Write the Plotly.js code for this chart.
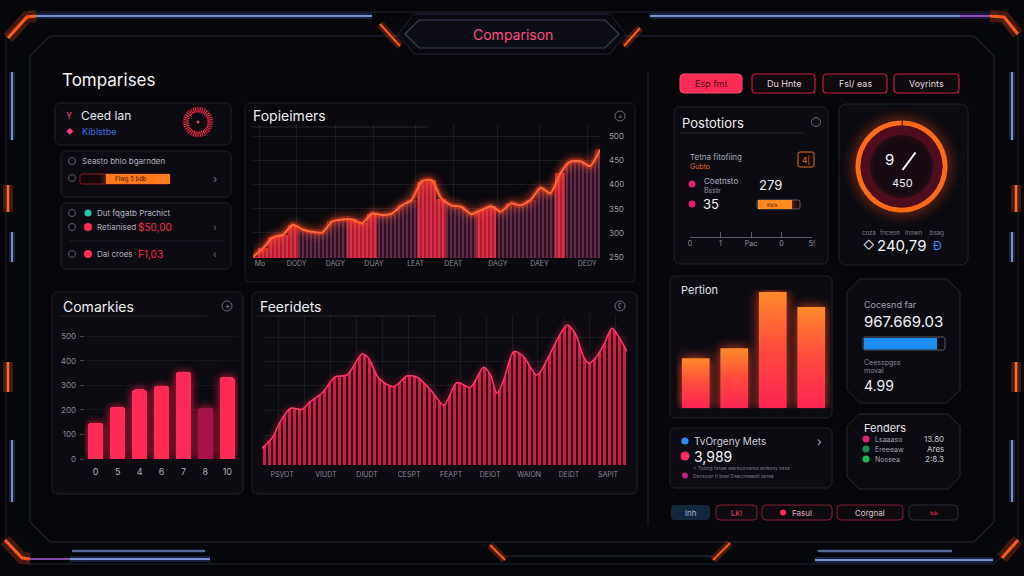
<!DOCTYPE html>
<html><head><meta charset="utf-8">
<script src="https://cdn.plot.ly/plotly-3.0.1.min.js"></script>
<style>
html,body{margin:0;padding:0;background:#05050a;overflow:hidden;}
#chart{width:1024px;height:576px;}
.subplot.x2y2 .barlayer .point path{filter:drop-shadow(0 0 4px rgba(255,30,70,0.9));}
.subplot.x4y4 .scatterlayer .fills path{filter:drop-shadow(0 0 6px rgba(255,70,40,0.85));}
.subplot.x3y3 .scatterlayer .js-line{filter:drop-shadow(0 0 3px rgba(255,40,90,0.9));}
.subplot.xy .scatterlayer .js-line{filter:drop-shadow(0 0 4px rgba(255,80,40,0.95));}
.subplot.x5y5 .barlayer path,.subplot.x6y6 .barlayer path{filter:drop-shadow(0 0 4px rgba(255,110,20,0.9));}
.pielayer .trace:first-child path.surface{filter:drop-shadow(0 0 7px rgba(255,80,20,0.9));}
</style></head>
<body><div id="chart"></div>
<script>
// ---------- DATA ----------
const trendX = [0,1,2,3,4,5,6,7,8,9,10,11,12,13,14,15,16,17,18,19,20,21,22,23,24,25,26,27,28,29,30,31,32,33,34,35];
const trendVals = [251,268,291,296,317,307,302,301,324,328,328,320,340,337,340,357,368,406,409,371,357,354,339,347,355,344,361,357,368,393,382,423,447,448,438,472];
const trendTickVals = [0.7,4.4,8.3,12.2,16.4,20.2,24.7,28.9,33.7];
const trendTickText = ['Mo','DODY','DAGY','DUAY','LEAT','DEAT','DAGY','DAEY','DEDY'];
const trendYTicks = [250,300,350,400,450,500];
const trendBright = [0,1,2,3,4,10,11,12,17,18,19,23,24,31];

const comCats = ['0','5','4','6','7','8','10'];
const comVals = [147,212,283,298,356,209,333];
const comYTicks = [0,100,200,300,400,500];

const feerX = [0,2.7,5,7.8,11,13.2,16.4,20.1,23.3,27.4,29.2,32,36.1,39.7,42.5,46.6,49.8,53.4,57.1,60.7,62.6,64.4,66.2,69,71.7,75.3,78.1,79.9,83.6,85.8,88.1,89.5,91.3,93.6,95.9,97.7,100];
const feerY = [16.7,26.7,43.3,56.7,55.7,63.3,71.7,88.3,90,111,106.7,86.7,78.3,89,87.7,73.3,60,82.3,77.7,97.7,90,71.7,85,113.3,108.3,90,105,118.3,140,131.7,108.3,101.7,106.7,120,136.7,128.3,113.3];
const feerTickVals = [5.5,17.5,28.8,40.3,51.8,62.5,73.2,84.1,94.8];
const feerTickText = ['PSVOT','VIUDT','DIUDT','CESPT','FEAPT','DEIOT','WAION','DEIDT','SAPIT'];

const perCats = [0,1,2,3];
const perVals = [50,60,116,101];

const gaugeRing = [1,199];
const progressLeft = {start:29, len:71};
const progressPos = [81];
const progressConsumed = [90.5];
const posScaleVals = [0,1,2,3,4];
const posScaleText = ['0','1','Pac','0','5!'];

// ---------- HELPERS ----------
const W=1024,H=576,F='Inter, "Open Sans", Roboto, sans-serif';
const X=p=>p/W, Y=p=>1-p/H;
const shapes=[], ann=[];
function pth(pts,close){return 'M '+pts.map(p=>X(p[0])+','+Y(p[1])).join(' L ')+(close?' Z':'');}
function rr(x0,y0,x1,y1,r){return `M ${X(x0+r)},${Y(y0)} L ${X(x1-r)},${Y(y0)} Q ${X(x1)},${Y(y0)} ${X(x1)},${Y(y0+r)} L ${X(x1)},${Y(y1-r)} Q ${X(x1)},${Y(y1)} ${X(x1-r)},${Y(y1)} L ${X(x0+r)},${Y(y1)} Q ${X(x0)},${Y(y1)} ${X(x0)},${Y(y1-r)} L ${X(x0)},${Y(y0+r)} Q ${X(x0)},${Y(y0)} ${X(x0+r)},${Y(y0)} Z`;}
function oct(x0,y0,x1,y1,c){return pth([[x0+c,y0],[x1-c,y0],[x1,y0+c],[x1,y1-c],[x1-c,y1],[x0+c,y1],[x0,y1-c],[x0,y0+c]],true);}
function S(path,fill,line,w,layer){shapes.push({type:'path',xref:'paper',yref:'paper',path,fillcolor:fill||'rgba(0,0,0,0)',line:{color:line||'rgba(0,0,0,0)',width:w||0},layer:layer||'below'});}
function L(pts,color,w,glow){ if(glow){S(pth(pts),null,glow,w*4);} S(pth(pts),null,color,w);}
function dot(cx,cy,r,fill,line,layer){shapes.push({type:'circle',xref:'paper',yref:'paper',x0:X(cx-r),x1:X(cx+r),y0:Y(cy+r),y1:Y(cy-r),fillcolor:fill||'rgba(0,0,0,0)',line:{color:line||'rgba(0,0,0,0)',width:line?1:0},layer:layer||'above'});}
function T(x,y,text,size,color,anchor,extra){ann.push(Object.assign({xref:'paper',yref:'paper',x:X(x),y:Y(y),text,showarrow:false,xanchor:anchor||'left',yanchor:'middle',font:{family:F,size,color}},extra||{}));}

// ---------- FRAME ----------
S(oct(6,12,1018,564,24),'#06070b','#161a24',1.5);
S(oct(30,36,994,542,20),'#07070b','#1b1f2b',1.5);
L([[8,38],[27,17],[36,16]],'#ff5a1c',3,'rgba(255,80,20,0.25)');
L([[36,16],[372,16]],'#9ab8ff',1.5,'rgba(100,150,255,0.2)');
L([[650,16],[960,16]],'#9ab8ff',1.5,'rgba(100,150,255,0.2)');
L([[960,16],[990,16]],'#b060e0',1.5,'rgba(160,80,255,0.2)');
L([[990,16],[1004,17],[1018,34]],'#ff5a1c',3,'rgba(255,80,20,0.25)');
L([[12,72],[12,140]],'#9ab8ff',1.5,'rgba(100,150,255,0.2)');
L([[8,185],[8,212]],'#ff6a1c',2.5,'rgba(255,80,20,0.25)');
L([[12,232],[12,262]],'#9ab8ff',1.5,'rgba(100,150,255,0.2)');
L([[8,362],[8,392]],'#ff6a1c',2.5,'rgba(255,80,20,0.25)');
L([[12,440],[12,502]],'#9ab8ff',1.5,'rgba(100,150,255,0.2)');
L([[1012,72],[1012,140]],'#9ab8ff',1.5,'rgba(100,150,255,0.2)');
L([[1016,185],[1016,212]],'#ff6a1c',2.5,'rgba(255,80,20,0.25)');
L([[1012,232],[1012,262]],'#9ab8ff',1.5,'rgba(100,150,255,0.2)');
L([[1016,362],[1016,392]],'#ff6a1c',2.5,'rgba(255,80,20,0.25)');
L([[1012,440],[1012,502]],'#9ab8ff',1.5,'rgba(100,150,255,0.2)');
L([[5,540],[22,558],[30,559]],'#ff5a1c',3,'rgba(255,80,20,0.25)');
L([[30,559],[70,559]],'#b060e0',1.5);
L([[70,559],[210,559]],'#9ab8ff',1.5,'rgba(100,150,255,0.2)');
L([[72,551],[205,551]],'#9ab8ff',1,'rgba(100,150,255,0.15)');
L([[815,560],[993,560]],'#9ab8ff',1.5,'rgba(100,150,255,0.2)');
L([[818,551],[952,551]],'#9ab8ff',1,'rgba(100,150,255,0.15)');
L([[1002,558],[1018,540]],'#ff5a1c',3,'rgba(255,80,20,0.25)');
L([[713,560],[730,543]],'#ff5a1c',2,'rgba(255,80,20,0.25)');
L([[490,545],[505,560]],'#ff5a1c',2,'rgba(255,80,20,0.25)');
L([[505,556],[713,556]],'#2a3040',1);
L([[380,24],[400,46]],'#ff5a1c',2,'rgba(255,80,20,0.25)');
L([[640,28],[624,46]],'#ff5a1c',2,'rgba(255,80,20,0.25)');
S(pth([[398,34],[414,14],[610,14],[626,34],[610,54],[414,54]],true),'#08080e','#20243a',1);
S(pth([[405,34],[419,20],[605,20],[619,34],[605,48],[419,48]],true),'#0d0d16','#3a3f58',1.2);
T(513,34,'Comparison',14,'#ff4f80','center');
L([[648,72],[648,525]],'#1c1c26',1.2);

// ---------- PANELS ----------
const PF='#0b0b11', PL='#22222c';
T(60,80,'Tomparises',17,'#f2f2f6');
S(rr(55,103,231,145,6),PF,PL,1);
S(rr(61,151,231,197,6),PF,PL,1);
S(rr(61,203,231,269,6),PF,PL,1);
S(rr(245,103,635,282,6),'#09090e','#1e1e28',1);
S(rr(52,292,243,494,6),PF,PL,1);
S(rr(252,292,637,494,6),PF,PL,1);
S(rr(674,107,828,264,6),PF,PL,1);
S(rr(839,104,968,265,8),PF,PL,1);
S(rr(670,276,832,418,6),PF,PL,1);
S(rr(670,428,832,488,6),PF,PL,1);
S(oct(847,279,960,403,13),PF,'#262630',1);
S(oct(847,414,960,489,12),PF,'#262630',1);

T(69,116,'Y',9,'#ff3a6a','center'); T(79,116,'Ceed lan',12,'#e8e8ee');
T(70,131,'◆',7,'#ff3a8a','center'); T(80,131,'Kiblstbe',9,'#3c6fe0');
dot(72,161,3.5,null,'#5a5a68'); T(80,161,'Seasto bhlo bgarnden',8,'#b0b0bc');
dot(72,178,3.5,null,'#5a5a68');
S(rr(80,174,170,184,2),'#120608','#8a1a22',1);
T(113,179,'Flwg 5 bdb',6,'#4a1200');
T(215,179,'›',11,'#7a7a88','center');
dot(72,213,3.5,null,'#5a5a68'); dot(88,213,3.5,'#28c8a8'); T(95,213,'Dut fqgatb Prachict',8,'#b8b8c4');
dot(72,227,3.5,null,'#5a5a68'); dot(88,227,4,'#ff2a55'); T(95,227,'Retianised',8,'#b0b0bc'); T(136,227,'$50,00',10,'#ff2a4a');
T(215,227,'›',10,'#6a6a78','center');
L([[70,241],[225,241]],'#22222c',1);
dot(72,254,3.5,null,'#5a5a68'); dot(88,254,4,'#ff2a55'); T(95,254,'Dal croes',8,'#b0b0bc'); T(136,254,'F1,03',10,'#ff2a4a');
T(215,254,'‹',10,'#6a6a78','center');

T(251,116,'Fopieimers',14,'#eeeef2'); L([[250,127],[427,127]],'#26262f',1); dot(620,116,5,null,'#6a6a78'); T(620,116,'◦',8,'#8a8a98','center');
T(61,306,'Comarkies',14,'#eeeef2'); L([[61,316],[207,316]],'#26262f',1); dot(227,306,5,null,'#6a6a78'); T(227,306,'+',8,'#8a8a98','center');
T(258,306,'Feeridets',14,'#eeeef2'); L([[257,316],[435,316]],'#26262f',1); dot(620,306,5,null,'#6a6a78'); T(620,306,'ʕ',7,'#8a8a98','center');

S(rr(680,74,742,93,4),'#ff2a55','#ff4a6a',1);
T(711,83.5,'Esp fmt',9,'#4a0814','center');
[[752,815,'Du Hnte'],[823,887,'Fsl/ eas'],[894,959,'Voyrints']].forEach(b=>{S(rr(b[0],74,b[1],93,4),'#100a0e','#c81e3c',1.2);T((b[0]+b[1])/2,83.5,b[2],9,'#e4d8de','center');});

T(680,123,'Postotiors',13,'#eeeef2'); L([[680,133],[805,133]],'#26262f',1); dot(816,122,4.5,null,'#6a6a78');
T(688,157,'Tetna fitofiing',8,'#a8a8b8'); T(688,166,'Gubto',7,'#e06a20');
S(rr(798,152,814,167,2),'#140a08','#e07020',1); T(806,159.5,'4|',8,'#e07020','center');
dot(692,184,3.5,'#e0206a'); T(702,181,'Coetnsto',8,'#b0b0c0'); T(702,190,'Bsstr',7,'#9a9aa8');
T(757,185,'279',13,'#f0f0f4');
dot(692,204,3.5,'#e0206a'); T(701,204,'35',13,'#f0f0f4');
S(rr(757,200,800,209,2),'#140808','#5a5a68',1);
T(765,204.5,'Kbls',5,'#5a2000');

dot(901.5,166.5,32,'#170a12',null,'below');
T(889,159,'9',15,'#f4f4f8','center');
shapes.push({type:'line',xref:'paper',yref:'paper',x0:X(902.5),y0:Y(170),x1:X(915.5),y1:Y(152.5),line:{color:'#ffffff',width:2},layer:'above'});
T(902,182.5,'450',11,'#f0f0f4','center');
T(869,233,'coza',6,'#80808e','center'); T(890,233,'fnceon',6,'#80808e','center'); T(913,233,'lnown',6,'#80808e','center'); T(937,233,'bsag',6,'#80808e','center');
T(869,245,'◇',11,'#e8e8ee','center'); T(901,245,'240,79',15,'#f4f4f8','center'); T(937,245,'Ɖ',12,'#2a8cff','center');

T(679,290,'Pertion',11,'#e4e4ea');
dot(685,441,3.5,'#2a8cff'); T(692,441,'TvOrgeny Mets',10,'#d0d0dc'); T(819,441,'›',12,'#b0b0bc','center');
dot(685,456,4.5,'#ff2a6a'); T(692,456,'3,989',14,'#f4f4f8');
T(691,468,'× Tolorg tssae wersoonarsa exlessy ssxa',5,'#7a7a88'); 
dot(685,475.5,3,'#c0207a'); T(691,475.5,'Dscsoiar tl bsel Dsecnseeatl lanse',5,'#7a7a88');

T(862,304,'Cocesnd far',9,'#a0a0b0'); T(862,321,'967.669.03',15,'#f4f4f8');
S(rr(863,337,945,350,2),'#0a0a10','#5a5a68',1);
T(862,362,'Ceesspgss',7,'#8a8a98'); T(862,370,'moval',7,'#8a8a98'); T(862,385,'4.99',14,'#f0f0f4');
T(862,428,'Fenders',11,'#e8e8ee');
[[439,'#e02070','Lsaaaso','13.80'],[449,'#1a8a50','Ereeeaw','Ares'],[459,'#22b852','Nossea','2:8.3']].forEach(r=>{dot(866,r[0],3.5,r[1]);T(873,r[0],r[2],7,'#a0a0ae');T(946,r[0],r[3],8,'#c8c8d0','right');});

S(rr(671,505,710,520,4),'#14263c',null,0); T(690.5,512.5,'lnh',8,'#9ab8e0','center');
S(rr(716,505,757,520,4),'#0c0a0e','#8a1a34',1); T(736.5,512.5,'Lkl',8,'#e04a6a','center');
S(rr(762,505,832,520,4),'#0c0a0e','#8a1a34',1); dot(783,512.5,3,'#ff2a55'); T(790,512.5,'Fasul',8,'#e0b0bc');
S(rr(837,505,903,520,4),'#0c0a0e','#8a1a34',1); T(870,512.5,'Corgnal',8,'#e0c8d0','center');
S(rr(909,505,958,520,4),'#0c0a0e','#2a2a3a',1); T(933.5,512.5,'ьь',7,'#e03050','center');

// ---------- TRACES ----------
const trendColors = trendX.map((_,i)=>trendBright.includes(i)?'#be162f':'#3a0e26');
const traces = [];
traces.push({type:'bar',x:trendX,y:trendVals,xaxis:'x',yaxis:'y',width:1,
  marker:{color:trendColors,line:{width:0},pattern:{shape:'|',size:4,solidity:0.15,fillmode:'overlay',fgcolor:'rgba(0,0,0,0.22)'}}});
traces.push({type:'scatter',mode:'lines',x:trendX,y:trendVals,xaxis:'x',yaxis:'y',line:{color:'rgba(255,60,30,0.35)',width:6,shape:'spline',smoothing:0.6}});
traces.push({type:'scatter',mode:'lines',x:trendX,y:trendVals,xaxis:'x',yaxis:'y',line:{color:'#ff6a3a',width:2,shape:'spline',smoothing:0.6}});

const comColors = comVals.map((_,i)=>i===5?'#a8124a':'#ff2a55');
traces.push({type:'bar',x:comCats,y:comVals,xaxis:'x2',yaxis:'y2',width:0.68,marker:{color:comColors,cornerradius:3,line:{width:0}}});

traces.push({type:'scatter',mode:'lines',x:feerX,y:feerY,xaxis:'x3',yaxis:'y3',fill:'tozeroy',
  fillpattern:{shape:'|',size:5,solidity:0.58,fgcolor:'#d41c48',bgcolor:'#1c0610'},
  line:{color:'#ff3a66',width:1.5,shape:'spline',smoothing:0.8}});

const hw=0.36;
perCats.forEach((c,i)=>{
  traces.push({type:'scatter',mode:'lines',xaxis:'x4',yaxis:'y4',
    x:[c-hw,c-hw,c+hw,c+hw,c-hw], y:[0,perVals[i],perVals[i],0,0], fill:'toself', line:{width:0,color:'rgba(0,0,0,0)'},
    fillgradient:{type:'vertical',colorscale:[[0,'#ff2452'],[0.5,'#ff4a3e'],[1,'#ff8a2a']]}});
});

traces.push({type:'pie',values:gaugeRing,sort:false,direction:'clockwise',rotation:0,hole:0.89,textinfo:'none',hoverinfo:'none',
  marker:{colors:['#2a0a10','#ff6a18'],line:{width:0}},domain:{x:[X(855.5),X(947.5)],y:[Y(212.5),Y(120.5)]}});
traces.push({type:'pie',values:[1],sort:false,hole:0.77,textinfo:'none',hoverinfo:'none',
  marker:{colors:['#4e0d1e'],line:{width:0}},domain:{x:[X(860.5),X(942.5)],y:[Y(207.5),Y(125.5)]}});

traces.push({type:'scatterpolar',r:[0],theta:[0],mode:'markers',marker:{size:3,color:'#ff3050'},subplot:'polar'});

traces.push({type:'bar',orientation:'h',y:[0],x:[progressLeft.len],base:[progressLeft.start],xaxis:'x5',yaxis:'y5',width:1,marker:{color:'#ff7a1a'}});
traces.push({type:'bar',orientation:'h',y:[0],x:progressPos,xaxis:'x6',yaxis:'y6',width:1,marker:{color:'#ff8a20'}});
traces.push({type:'bar',orientation:'h',y:[0],x:progressConsumed,xaxis:'x7',yaxis:'y7',width:1,marker:{color:'#1a8ff0'}});
traces.push({type:'scatter',x:[],y:[],xaxis:'x8',yaxis:'y8'});

const hid = {visible:false,fixedrange:true};
const grid='rgba(255,255,255,0.07)';
const layout = {
  width:W,height:H,margin:{l:0,r:0,t:0,b:0},paper_bgcolor:'#05050a',plot_bgcolor:'rgba(0,0,0,0)',
  showlegend:false,hovermode:false,bargap:0,
  xaxis:{domain:[X(253),X(600)],range:[0,35],anchor:'y',tickvals:trendTickVals,ticktext:trendTickText,showgrid:true,gridcolor:grid,zeroline:false,
    tickfont:{family:F,size:7,color:'#8a8a98'},ticklabelstandoff:0,fixedrange:true},
  yaxis:{domain:[Y(258),Y(124)],range:[248.3,524.8],anchor:'x',side:'right',tickvals:trendYTicks,showgrid:true,gridcolor:grid,zeroline:false,
    tickfont:{family:F,size:8,color:'#9a9aa8'},ticklabelstandoff:8,fixedrange:true},
  xaxis2:{domain:[X(84.7),X(238.3)],anchor:'y2',type:'category',range:[-0.5,6.5],showgrid:false,zeroline:false,tickfont:{family:F,size:9,color:'#b0b0bc'},ticklabelstandoff:6,fixedrange:true},
  yaxis2:{domain:[Y(459),Y(330)],anchor:'x2',range:[0,525],tickvals:comYTicks,ticks:'outside',ticklen:4,tickcolor:'#44444e',showgrid:true,gridcolor:'rgba(255,255,255,0.04)',zeroline:false,
    tickfont:{family:F,size:8,color:'#8a8a98'},ticklabelstandoff:2,fixedrange:true},
  xaxis3:{domain:[X(262),X(627)],anchor:'y3',range:[0,100],tickvals:feerTickVals,ticktext:feerTickText,showgrid:false,zeroline:false,
    minor:{dtick:7.1,tick0:4.6,showgrid:true,gridcolor:'rgba(255,255,255,0.06)'},
    tickfont:{family:F,size:7,color:'#8a8a98'},ticklabelstandoff:4,fixedrange:true},
  yaxis3:{domain:[Y(465),Y(315)],anchor:'x3',range:[0,150],tickvals:[30,55,80,104,128],showticklabels:false,showgrid:true,gridcolor:'rgba(255,255,255,0.06)',zeroline:false,fixedrange:true},
  xaxis4:Object.assign({domain:[X(676.5),X(830.5)],range:[-0.5,3.5],anchor:'y4'},hid),
  yaxis4:Object.assign({domain:[Y(408.3),Y(290)],range:[0,118],anchor:'x4'},hid),
  xaxis5:Object.assign({domain:[X(80),X(170)],range:[0,100],anchor:'y5'},hid),
  yaxis5:Object.assign({domain:[Y(184),Y(174)],range:[-0.5,0.5],anchor:'x5'},hid),
  xaxis6:Object.assign({domain:[X(757.5),X(799.5)],range:[0,100],anchor:'y6'},hid),
  yaxis6:Object.assign({domain:[Y(209),Y(200)],range:[-0.5,0.5],anchor:'x6'},hid),
  xaxis7:Object.assign({domain:[X(863.5),X(944.5)],range:[0,100],anchor:'y7'},hid),
  yaxis7:Object.assign({domain:[Y(349.5),Y(337.5)],range:[-0.5,0.5],anchor:'x7'},hid),
  xaxis8:{domain:[X(690),X(812)],range:[0,4],anchor:'y8',tickvals:posScaleVals,ticktext:posScaleText,showline:true,linecolor:'#5a5a68',
    ticks:'inside',ticklen:5,tickcolor:'#5a5a68',showgrid:false,zeroline:false,tickfont:{family:F,size:7,color:'#9a9aa8'},fixedrange:true},
  yaxis8:Object.assign({domain:[Y(237),Y(230)],range:[0,1],anchor:'x8'},hid),
  polar:{domain:{x:[X(183),X(213)],y:[Y(137),Y(107)]},bgcolor:'rgba(0,0,0,0)',
    radialaxis:{visible:false,range:[0,1]},
    angularaxis:{showline:true,linecolor:'rgba(255,40,70,0.35)',linewidth:1,ticks:'inside',ticklen:5,tickwidth:1.2,tickcolor:'#ff2a48',dtick:10,showticklabels:false,showgrid:false}},
  shapes:shapes, annotations:ann
};
Plotly.newPlot('chart',traces,layout,{staticPlot:true,displayModeBar:false});
</script></body></html>
